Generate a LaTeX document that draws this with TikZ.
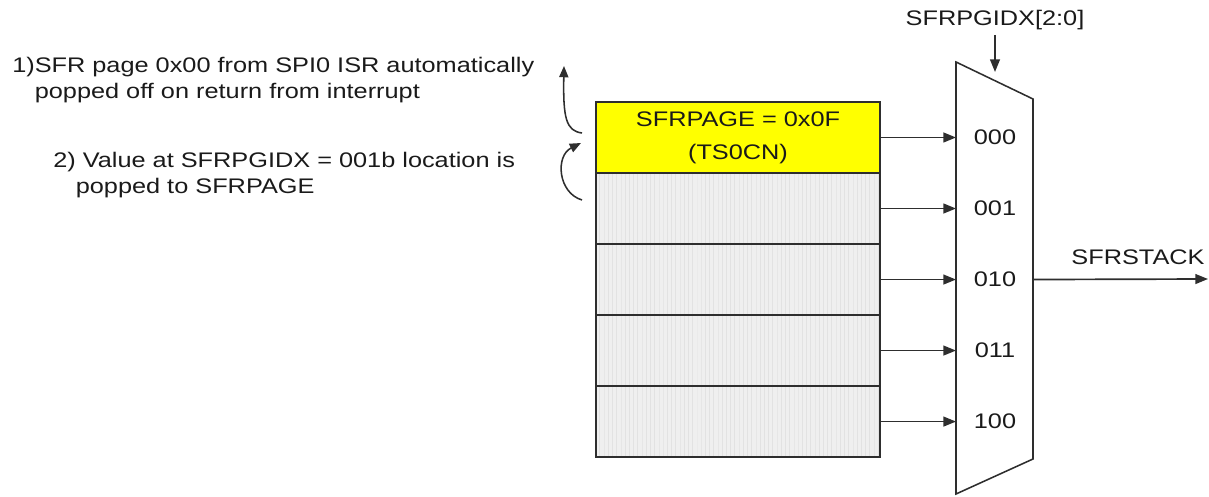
\documentclass[tikz,border=0pt]{standalone}
\usepackage{fontspec}
\setmainfont{Liberation Sans}[FakeStretch=1.2]
\usetikzlibrary{arrows.meta,positioning,patterns}
\definecolor{ink}{HTML}{1A1A1A}
\definecolor{frame}{HTML}{2E2E2E}
\definecolor{pagefill}{HTML}{FFFF00}
\definecolor{slotfill}{HTML}{EFEFEF}
\definecolor{slotline}{HTML}{E2E2E2}

\begin{document}
\begin{tikzpicture}[
    x=0.025cm, y=-0.025cm,
    every node/.style={font=\fontsize{15}{18.5}\selectfont, text=ink},
    cell/.style={rectangle, draw=frame, line width=1.3pt, outer sep=0pt,
        minimum width=7.1cm, minimum height=1.775cm, align=center},
    pagebox/.style={cell, fill=pagefill},
    slot/.style={cell, preaction={fill=slotfill}, pattern=vertical lines, pattern color=slotline},
    note/.style={align=left, anchor=north west, inner sep=0pt},
    sel/.style={-{Triangle[length=9pt,width=7pt]}, line width=1.2pt, frame},
    pop/.style={-{Triangle[length=8pt,width=6.5pt]}, line width=1.1pt, frame},
]
\useasboundingbox (0,0) rectangle (1209,497);

% Notes
\node[note] (note1) at (12,57) {1)SFR page 0x00 from SPI0 ISR automatically\\\phantom{1)}popped off on return from interrupt};
\node[note] (note2) at (53,152) {2) Value at SFRPGIDX = 001b location is\\\phantom{2)}popped to SFRPAGE};

% Pop arrows
\coordinate (pop1-a) at (582,133);
\coordinate (pop1-b) at (564,66);
\coordinate (pop2-a) at (582,200);
\coordinate (pop2-b) at (581,143);
\draw[pop] (pop1-a) .. controls (566,131) and (563,118) .. (pop1-b);
\draw[pop] (pop2-a) .. controls (558,193) and (555,156) .. (pop2-b);

% SFR page stack
\node[pagebox] (row0) at (738,137.5) {SFRPAGE = 0x0F\\[5pt](TS0CN)};
\node[slot, below=0pt of row0] (row1) {};
\node[slot, below=0pt of row1] (row2) {};
\node[slot, below=0pt of row2] (row3) {};
\node[slot, below=0pt of row3] (row4) {};

% Mux
\coordinate (mux-tl) at (956,62);
\coordinate (mux-tr) at (1033,99);
\coordinate (mux-br) at (1033,459);
\coordinate (mux-bl) at (956,494);
\coordinate (mux-lab) at (995,0);
\draw[frame, line width=1.1pt] (mux-tl) -- (mux-tr) -- (mux-br) -- (mux-bl) -- cycle;

\node (in0) at (row0.east -| mux-lab) {000};
\node (in1) at (row1.east -| mux-lab) {001};
\node (in2) at (row2.east -| mux-lab) {010};
\node (in3) at (row3.east -| mux-lab) {011};
\node (in4) at (row4.east -| mux-lab) {100};

\draw[sel] (row0.east) -- (row0.east -| mux-tl);
\draw[sel] (row1.east) -- (row1.east -| mux-tl);
\draw[sel] (row2.east) -- (row2.east -| mux-tl);
\draw[sel] (row3.east) -- (row3.east -| mux-tl);
\draw[sel] (row4.east) -- (row4.east -| mux-tl);

% Select and output
\node (idx) at (995,20) {SFRPGIDX[2:0]};
\coordinate (idx-in) at (995,72);
\draw[sel] (idx.south) -- (idx-in);

\node (stk) at (1138,257) {SFRSTACK};
\coordinate (stack-out) at (1208,279);
\draw[sel] (row2.east -| mux-tr) -- (stack-out);

\end{tikzpicture}
\end{document}
